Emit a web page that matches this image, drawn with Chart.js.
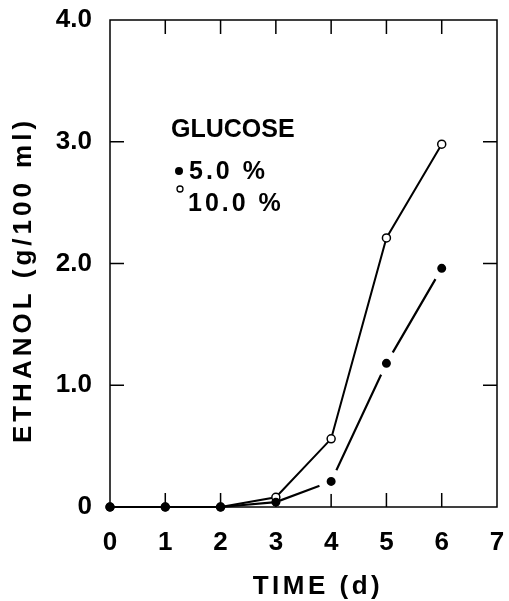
<!DOCTYPE html>
<html>
<head>
<meta charset="utf-8">
<script src="https://cdn.jsdelivr.net/npm/chart.js@4/dist/chart.umd.min.js"></script>
<style>
  html, body { margin: 0; padding: 0; background: #fff; }
  #wrap { width: 509px; height: 601px; }
</style>
</head>
<body>
<div id="wrap"><canvas id="chart" width="509" height="601"></canvas></div>
<script>
"use strict";

const days = [0, 1, 2, 3, 4, 5, 6];
const glucose5 = [0, 0, 0, 0.04, 0.21, 1.18, 1.96];
const glucose10 = [0, 0, 0, 0.08, 0.56, 2.21, 2.98];
const seriesNames = ["5.0 %", "10.0 %"];
const legendTitle = "GLUCOSE";
const yTickLabels = ["0", "1.0", "2.0", "3.0", "4.0"];
const xTickLabels = ["0", "1", "2", "3", "4", "5", "6", "7"];
const xTitle = "TIME (d)";
const yTitle = "ETHANOL (g/100 ml)";

const FONT = "'Liberation Sans', Arial, sans-serif";

function toPoints(values) {
  return days.map((d, i) => ({ x: d, y: values[i] }));
}

// filled markers leave a small gap in the line, like the plotted original
const gapIdx = [4, 5, 6];

const framePlugin = {
  id: "frame",
  beforeDatasetsDraw(chart) {
    const { ctx, chartArea: a, scales } = chart;
    const tick = 14;
    ctx.save();
    ctx.strokeStyle = "#000";
    ctx.lineWidth = 1.5;
    ctx.strokeRect(a.left, a.top, a.right - a.left, a.bottom - a.top);
    ctx.beginPath();
    for (let v = 1; v < xTickLabels.length - 1; v++) {
      const x = scales.x.getPixelForValue(v);
      ctx.moveTo(x, a.top);
      ctx.lineTo(x, a.top + tick);
      ctx.moveTo(x, a.bottom);
      ctx.lineTo(x, a.bottom - tick);
    }
    for (let v = 1; v < yTickLabels.length - 1; v++) {
      const y = scales.y.getPixelForValue(v);
      ctx.moveTo(a.left, y);
      ctx.lineTo(a.left + tick, y);
      ctx.moveTo(a.right, y);
      ctx.lineTo(a.right - tick, y);
    }
    ctx.stroke();
    ctx.restore();
  },
  afterDraw(chart) {
    const { ctx } = chart;
    ctx.save();
    ctx.fillStyle = "#000";
    ctx.strokeStyle = "#000";
    ctx.font = "bold 26px " + FONT;

    // axis titles
    ctx.letterSpacing = "3.5px";
    ctx.textAlign = "center";
    ctx.textBaseline = "alphabetic";
    ctx.fillText(xTitle, 318, 594);
    ctx.translate(31, 280);
    ctx.rotate(-Math.PI / 2);
    ctx.letterSpacing = "4px";
    ctx.fillText(yTitle, 0, 0);
    ctx.setTransform(1, 0, 0, 1, 0, 0);

    // legend
    ctx.textAlign = "left";
    ctx.font = "bold 25px " + FONT;
    ctx.letterSpacing = "0px";
    ctx.fillText(legendTitle, 171, 137);
    ctx.letterSpacing = "3px";
    ctx.fillText(seriesNames[0], 189, 179);
    ctx.fillText(seriesNames[1], 188, 211);
    ctx.beginPath();
    ctx.arc(179, 171, 4, 0, Math.PI * 2);
    ctx.fill();
    ctx.beginPath();
    ctx.lineWidth = 1.3;
    ctx.arc(180, 189, 3, 0, Math.PI * 2);
    ctx.stroke();
    ctx.restore();
  }
};

function noEdgePadding(scale) {
  scale.paddingTop = 0;
  scale.paddingBottom = 0;
  scale.paddingLeft = 0;
  scale.paddingRight = 0;
}

const ctx = document.getElementById("chart").getContext("2d");
const chart = new Chart(ctx, {
  type: "scatter",
  data: {
    datasets: [
      {
        label: seriesNames[0],
        data: toPoints(glucose5),
        showLine: true,
        clip: false,
        borderColor: "#000",
        borderWidth: 2.2,
        pointRadius: days.map((d, i) => (gapIdx.includes(i) ? 8.5 : 4.5)),
        pointBackgroundColor: "#000",
        pointBorderColor: days.map((d, i) => (gapIdx.includes(i) ? "#fff" : "#000")),
        pointBorderWidth: days.map((d, i) => (gapIdx.includes(i) ? 8 : 0))
      },
      {
        label: seriesNames[1],
        data: toPoints(glucose10),
        showLine: true,
        clip: false,
        borderColor: "#000",
        borderWidth: 2,
        pointRadius: 4,
        pointBackgroundColor: "#fff",
        pointBorderColor: "#000",
        pointBorderWidth: 1.5
      }
    ]
  },
  options: {
    responsive: false,
    animation: false,
    layout: { autoPadding: false, padding: { top: 20, right: 12, left: 0, bottom: 0 } },
    plugins: {
      legend: { display: false },
      tooltip: { enabled: false }
    },
    scales: {
      x: {
        type: "linear",
        min: 0,
        max: 7,
        grid: { display: false, drawTicks: false },
        border: { display: false },
        ticks: {
          stepSize: 1,
          padding: 20,
          color: "#000",
          font: { family: FONT, size: 26, weight: "bold" },
          callback: v => xTickLabels[v]
        },
        afterFit(scale) {
          scale.height = 94;
          noEdgePadding(scale);
        }
      },
      y: {
        min: 0,
        max: 4,
        grid: { display: false, drawTicks: false },
        border: { display: false },
        ticks: {
          stepSize: 1,
          padding: 18,
          color: "#000",
          font: { family: FONT, size: 26, weight: "bold" },
          callback: v => yTickLabels[v]
        },
        afterFit(scale) {
          scale.width = 110;
          noEdgePadding(scale);
        }
      }
    }
  },
  plugins: [framePlugin]
});
</script>
</body>
</html>
